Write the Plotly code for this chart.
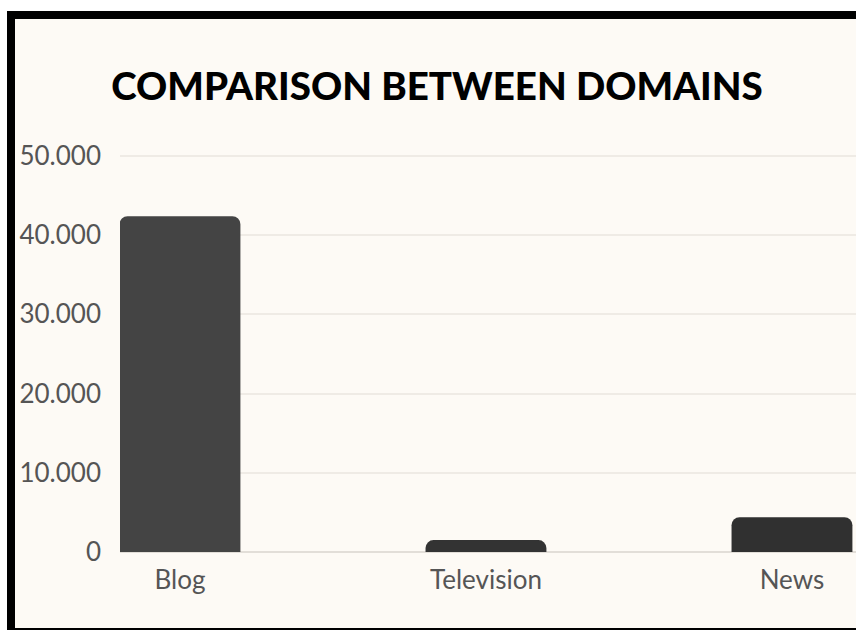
import plotly.graph_objects as go

categories = ["Blog", "Television", "News"]
values = [42400, 1500, 4400]
bar_colors = ["#444444", "#333333", "#303030"]
y_ticks = [0, 10000, 20000, 30000, 40000, 50000]

W, H = 856, 630
L, R, T, B = 120, 0, 148, 78
pw, ph = W - L - R, H - T - B

def px(x):
    return (x - L) / pw

def py(y):
    return 1 - (y - T) / ph

fig = go.Figure(
    go.Bar(
        x=categories,
        y=values,
        marker=dict(color=bar_colors, line=dict(width=0), cornerradius=8),
        width=0.395,
        hoverinfo="x+y",
    )
)

cream = "#fdfaf5"
fig.add_shape(type="rect", xref="paper", yref="paper",
              x0=px(11), x1=px(900), y0=py(632), y1=py(15),
              fillcolor=cream, line=dict(color="#000000", width=8), layer="below")

fig.update_layout(
    width=W, height=H,
    margin=dict(l=L, r=R, t=T, b=B, pad=0),
    paper_bgcolor="#ffffff",
    plot_bgcolor="rgba(0,0,0,0)",
    separators=",.",
    showlegend=False,
    title=dict(
        text="COMPARISON BETWEEN DOMAINS",
        x=(437) / W, xanchor="center",
        y=1 - 87 / H, yanchor="middle",
        font=dict(family="Lato", size=38.5, color="#000000", weight=900),
    ),
    font=dict(family="Lato", color="#555555", size=26),
    xaxis=dict(
        range=[-0.196, -0.196 + pw / 306],
        showgrid=False, zeroline=False, showline=False,
        ticks="", ticklabelstandoff=10,
        tickfont=dict(family="Lato", size=26, color="#555555"),
        fixedrange=True,
    ),
    yaxis=dict(
        range=[0, 51000],
        tickvals=y_ticks,
        tickformat=",d",
        showgrid=True, gridcolor="#efebe5", gridwidth=1.5,
        zeroline=True, zerolinecolor="#e2ded8", zerolinewidth=2,
        showline=False, ticks="", ticklabelstandoff=18,
        tickfont=dict(family="Lato", size=26, color="#555555"),
        fixedrange=True,
    ),
)

fig.write_html(
    "out.html",
    config={"displayModeBar": False},
    post_script="document.body.style.margin='0';document.body.style.overflow='hidden';",
)
